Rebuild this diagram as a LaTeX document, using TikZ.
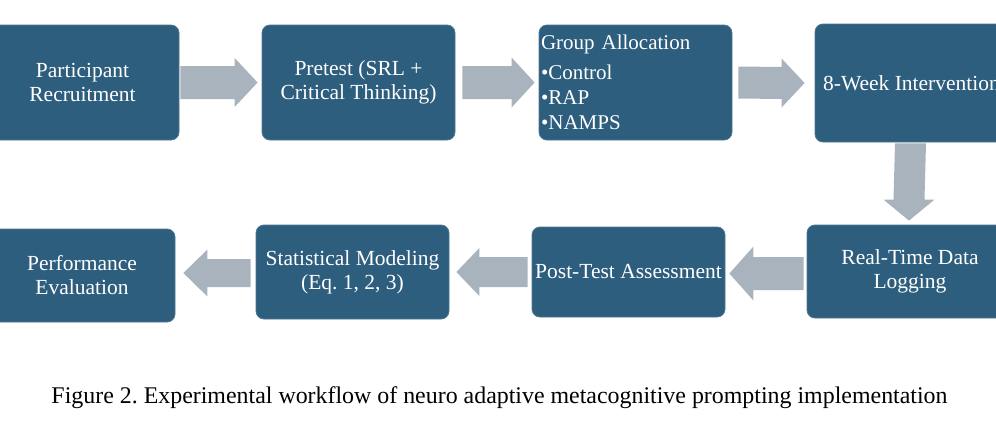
\documentclass[tikz,border=0pt]{standalone}
\usepackage{fontspec}
\setmainfont{Liberation Serif}
\usetikzlibrary{calc}
\definecolor{boxc}{HTML}{2E5E7E}
\definecolor{arrc}{HTML}{A9B3BD}
\tikzset{
  stepbox/.style={rounded corners=8pt, fill=boxc, draw=boxc!85!white, line width=0.8pt,
    text=white, align=center, font=\fontsize{21.5}{24}\selectfont, inner sep=2pt},
  rowone/.style={minimum width=193pt, minimum height=115pt},
  rowtwo/.style={minimum width=193pt, minimum height=93pt},
  arrowfill/.style={fill=arrc, draw=none}
}
\frenchspacing
\begin{document}
\begin{tikzpicture}[x=1pt,y=-1pt]
\useasboundingbox (0,0) rectangle (996,423);
% row 1
\node[stepbox, rowone] (b1) at (82.5,82.5) {Participant\\Recruitment};
\node[stepbox, rowone] (b2) at (358.5,82.5) {Pretest (SRL +\\Critical Thinking)};
\node[stepbox, rowone, align=left, text width=189pt, font=\fontsize{21}{25}\selectfont] (b3) at (635.5,82.5)
  {Group Allocation\\[5pt]•Control\\•RAP\\•NAMPS};
\node[stepbox, minimum width=193pt, minimum height=118pt] (b4) at (911.5,83) {8-Week Intervention};
% row 2
\node[stepbox, minimum width=206pt, minimum height=93pt] (b5) at (910,271.5) {Real-Time Data\\Logging};
\node[stepbox, rowtwo, minimum height=90pt] (b6) at (628.5,272) {Post-Test Assessment};
\node[stepbox, rowtwo, minimum height=94pt] (b7) at (352.5,272) {Statistical Modeling\\(Eq. 1, 2, 3)};
\node[stepbox, minimum width=186pt, minimum height=93pt] (b8) at (82,275.5) {Performance\\Evaluation};
% right arrows (row 1)
\fill[arrowfill] ($(b1.east)+(1,-16.5)$) -- ($(b2.west)+(-27,-16.5)$) -- ($(b2.west)+(-27,-24.5)$)
  -- ($(b2.west)+(-4,0)$) -- ($(b2.west)+(-27,24.5)$) -- ($(b2.west)+(-27,16.5)$) -- ($(b1.east)+(1,16.5)$) -- cycle;
\fill[arrowfill] ($(b2.east)+(7,-16.5)$) -- ($(b3.west)+(-27,-16.5)$) -- ($(b3.west)+(-27,-25)$)
  -- ($(b3.west)+(-4,0)$) -- ($(b3.west)+(-27,25)$) -- ($(b3.west)+(-27,16.5)$) -- ($(b2.east)+(7,16.5)$) -- cycle;
\fill[arrowfill] ($(b3.east)+(6,-16)$) -- ($(b4.west)+(-33,-16)$) -- ($(b4.west)+(-33,-24.5)$)
  -- ($(b4.west)+(-10,0)$) -- ($(b4.west)+(-33,24.5)$) -- ($(b4.west)+(-33,16)$) -- ($(b3.east)+(6,16)$) -- cycle;
% down arrow
\coordinate (dtop) at ($(b4.south)+(-1,1)$);
\coordinate (dtip) at ($(b5.north)+(-1,-4)$);
\fill[arrowfill] ($(dtop)+(-15.5,0)$) -- ($(dtip)+(-15.5,-21)$) -- ($(dtip)+(-25.5,-21)$) -- (dtip)
  -- ($(dtip)+(25.5,-21)$) -- ($(dtip)+(15.5,-21)$) -- ($(dtop)+(15.5,0)$) -- cycle;
% left arrows (row 2)
\coordinate (l1s) at ($(b5.west |- 0,273.5)+(-3,0)$);
\coordinate (l1t) at ($(b6.east |- 0,273.5)+(4,0)$);
\fill[arrowfill] ($(l1s)+(0,-16.5)$) -- ($(l1t)+(24,-16.5)$) -- ($(l1t)+(24,-27)$) -- (l1t)
  -- ($(l1t)+(24,27)$) -- ($(l1t)+(24,16.5)$) -- ($(l1s)+(0,16.5)$) -- cycle;
\coordinate (l2s) at ($(b6.west |- 0,272)+(-4,0)$);
\coordinate (l2t) at ($(b7.east |- 0,272)+(7,0)$);
\fill[arrowfill] ($(l2s)+(0,-15)$) -- ($(l2t)+(23,-15)$) -- ($(l2t)+(23,-24)$) -- (l2t)
  -- ($(l2t)+(23,24)$) -- ($(l2t)+(23,15)$) -- ($(l2s)+(0,15)$) -- cycle;
\coordinate (l3s) at ($(b7.west |- 0,273)+(-5,0)$);
\coordinate (l3t) at ($(b8.east |- 0,273)+(8,0)$);
\fill[arrowfill] ($(l3s)+(0,-14)$) -- ($(l3t)+(24,-14)$) -- ($(l3t)+(24,-23.5)$) -- (l3t)
  -- ($(l3t)+(24,23.5)$) -- ($(l3t)+(24,14)$) -- ($(l3s)+(0,14)$) -- cycle;
% caption
\node[anchor=base, font=\fontsize{23.9}{28}\selectfont, inner sep=0pt] (cap) at (499.5,403)
  {Figure 2. Experimental workflow of neuro adaptive metacognitive prompting implementation};
\end{tikzpicture}
\end{document}
